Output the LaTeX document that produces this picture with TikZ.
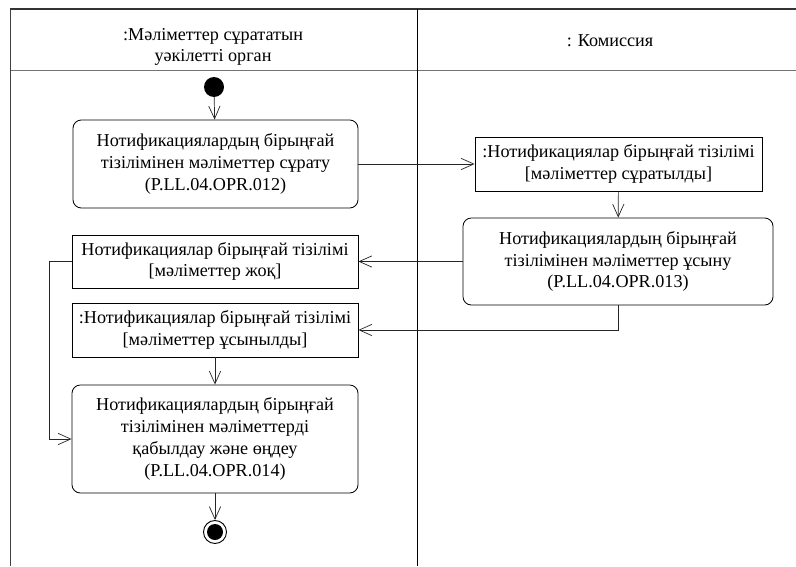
\documentclass[tikz,border=0pt]{standalone}
\usepackage{fontspec}
\setmainfont{Liberation Serif}
\usetikzlibrary{arrows.meta}

\begin{document}
\begin{tikzpicture}[x=0.03cm,y=-0.03cm,
  font=\fontsize{15.5}{18.6}\selectfont,
  arr/.style={-{Straight Barb[length=0.38cm,width=0.34cm]},line width=0.6pt,black!85},
  action/.style={draw,line width=0.7pt,rounded corners=0.25cm,align=center,inner sep=2pt},
  objbox/.style={draw,line width=0.7pt,align=center,inner sep=2pt},
  startnode/.style={circle,fill=black,minimum size=0.6cm,inner sep=0pt},
  endnode/.style={circle,draw,line width=0.8pt,minimum size=0.69cm,inner sep=0pt,
    path picture={\fill (path picture bounding box.center) circle (0.24cm);}}]

        % Размеры
        \useasboundingbox (0,0) rectangle (796,566);

        % Дорожки
        \draw[line width=1pt,black!80] (10,9) -- (796,9);
        \draw[line width=0.8pt,black!55] (10,70) -- (796,70);
        \draw[line width=0.8pt,black!75] (10,9) -- (10,566);
        \draw[line width=0.8pt] (417,9) -- (417,566);

        % Заголовки дорожек
        \node[align=center] (lane1) at (213,47) {:Мәліметтер сұрататын\\уәкілетті орган};
        \node (lane2) at (610,41) {: Комиссия};

        % Узлы
        \node[startnode] (init) at (214,87) {};
        \node[action,minimum width=8.55cm,minimum height=2.64cm] (req) at (215.5,164)
          {Нотификациялардың бірыңғай\\тізілімінен мәліметтер сұрату\\(P.LL.04.OPR.012)};
        \node[objbox,minimum width=8.61cm,minimum height=1.62cm] (asked) at (618.5,164)
          {:Нотификациялар бірыңғай тізілімі\\{[}мәліметтер сұратылды{]}};
        \node[action,minimum width=9.3cm,minimum height=2.61cm] (give) at (618,261.5)
          {Нотификациялардың бірыңғай\\тізілімінен мәліметтер ұсыну\\(P.LL.04.OPR.013)};
        \node[objbox,minimum width=8.58cm,minimum height=1.59cm] (none) at (215,261.5)
          {Нотификациялар бірыңғай тізілімі\\{[}мәліметтер жоқ{]}};
        \node[objbox,minimum width=8.58cm,minimum height=1.62cm] (given) at (215,330)
          {:Нотификациялар бірыңғай тізілімі\\{[}мәліметтер ұсынылды{]}};
        \node[action,minimum width=8.58cm,minimum height=3.24cm] (proc) at (215,439)
          {Нотификациялардың бірыңғай\\тізілімінен мәліметтерді\\қабылдау және өңдеу\\(P.LL.04.OPR.014)};
        \node[endnode] (final) at (215,532) {};
        \coordinate (bend) at (49,261.5);

        % Переходы
        \draw[arr] (init) -- (req);
        \draw[arr] (req) -- (asked);
        \draw[arr] (asked) -- (give);
        \draw[arr] (give) -- (none);
        \draw[arr] (give.south) |- (given);
        \draw[arr] (given) -- (proc);
        \draw[arr] (none) -- (bend) |- (proc);
        \draw[arr] (proc) -- (final);

\end{tikzpicture}
\end{document}
